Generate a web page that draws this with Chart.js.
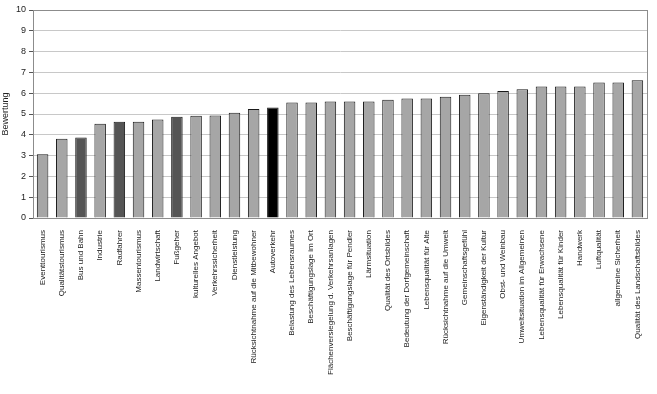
<!DOCTYPE html>
<html>
<head>
<meta charset="utf-8">
<script src="https://cdn.jsdelivr.net/npm/chart.js@4"></script>
<style>
  html, body { margin: 0; padding: 0; background: #fff; }
  #wrap { width: 657px; height: 394px; }
</style>
</head>
<body>
<div id="wrap"><canvas id="bewertungChart" width="657" height="394"></canvas></div>
<script>
// categories and ratings
const categories = [
    "Eventtourismus", "Qualitätstourismus", "Bus und Bahn", "Industrie",
    "Radfahrer", "Massentourismus", "Landwirtschaft", "Fußgeher",
    "kulturelles Angebot", "Verkehrssicherheit", "Dienstleistung",
    "Rücksichtnahme auf die Mitbewohner", "Autoverkehr",
    "Belastung des Lebensraumes", "Beschäftigungslage im Ort",
    "Flächenversiegelung d. Verkehrsanlagen", "Beschäftigungslage für Pendler",
    "Lärmsituation", "Qualität des Ortsbildes", "Bedeutung der Dorfgemeinschaft",
    "Lebensqualität für Alte", "Rücksichtnahme auf die Umwelt",
    "Gemeinschaftsgefühl", "Eigenständigkeit der Kultur", "Obst- und Weinbau",
    "Umweltsituation im Allgemeinen", "Lebensqualität für Erwachsene",
    "Lebensqualität für Kinder", "Handwerk", "Luftqualität",
    "allgemeine Sicherheit", "Qualität des Landschaftsbildes"
];
const ratings = [
    3.07, 3.81, 3.87, 4.53, 4.63, 4.63, 4.74, 4.87, 4.92, 4.93, 5.06,
    5.24, 5.31, 5.55, 5.55, 5.6, 5.6, 5.6, 5.69, 5.74, 5.74, 5.83,
    5.93, 6.0, 6.1, 6.19, 6.32, 6.32, 6.32, 6.51, 6.51, 6.62
];
const yTicks = [0, 1, 2, 3, 4, 5, 6, 7, 8, 9, 10];

// traffic related bars are shaded darker, car traffic black
const darkBars = ["Bus und Bahn", "Radfahrer", "Fußgeher"];
const blackBars = ["Autoverkehr"];

const barColors = categories.map(c => {
    if (blackBars.includes(c)) return "#000000";
    if (darkBars.includes(c)) return "#555555";
    return "#a6a6a6";
});

const plotFrame = {
    id: "plotFrame",
    afterDraw(chart) {
        const a = chart.chartArea;
        const ctx = chart.ctx;
        ctx.save();
        ctx.strokeStyle = "#8c8c8c";
        ctx.lineWidth = 1;
        ctx.strokeRect(Math.round(a.left) + 0.5, Math.round(a.top) + 0.5,
            Math.round(a.right - a.left), Math.round(a.bottom - a.top));
        ctx.restore();
    }
};

let ctx = document.getElementById("bewertungChart").getContext("2d");
let myChart = new Chart(ctx, {
    type: "bar",
    data: {
        labels: categories,
        datasets: [
            {
                label: "Bewertung",
                data: ratings,
                backgroundColor: barColors,
                borderColor: "#1a1a1a",
                borderWidth: 1,
                barPercentage: 0.6,
                categoryPercentage: 1.0,
            },
        ],
    },
    options: {
        responsive: false,
        animation: false,
        layout: { padding: { top: 10, right: 10, left: 0, bottom: 0 } },
        plugins: {
            legend: { display: false },
            tooltip: { enabled: false },
        },
        scales: {
            x: {
                grid: { display: false },
                border: { color: "#555555" },
                ticks: {
                    minRotation: 90,
                    maxRotation: 90,
                    autoSkip: false,
                    color: "#222",
                    padding: 4,
                    font: { family: "Liberation Sans", size: 8 },
                },
                afterFit(scale) { scale.height = 176; },
            },
            y: {
                min: 0,
                max: 10,
                afterBuildTicks(scale) {
                    scale.ticks = yTicks.map(v => ({ value: v }));
                },
                grid: {
                    color: "#c8c8c8",
                    tickLength: 4,
                    tickColor: "#555555",
                },
                border: { color: "#555555" },
                ticks: {
                    color: "#222",
                    padding: 3,
                    font: { family: "Liberation Sans", size: 9 },
                },
                title: {
                    display: true,
                    text: "Bewertung",
                    color: "#222",
                    padding: 0,
                    font: { family: "Liberation Sans", size: 9 },
                },
                afterFit(scale) { scale.width = 33; },
            },
        },
    },
    plugins: [plotFrame],
});
</script>
</body>
</html>
